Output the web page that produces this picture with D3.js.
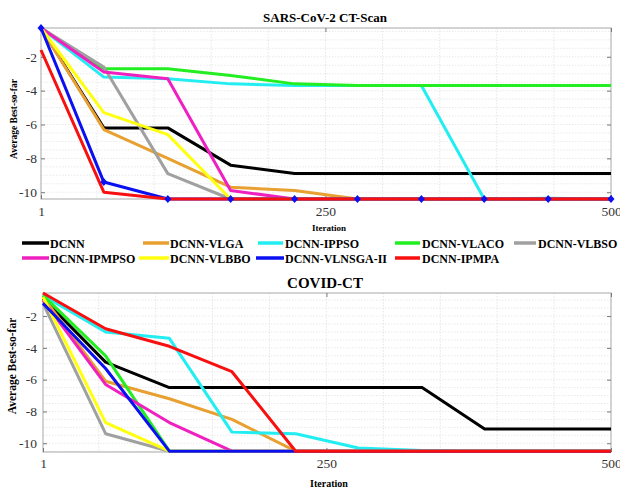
<!DOCTYPE html>
<html>
<head>
<meta charset="utf-8">
<script src="https://cdn.jsdelivr.net/npm/d3@7"></script>
<style>
  body { margin: 0; background: #fff; }
  svg { display: block; }
</style>
</head>
<body>
<div id="chart"></div>
<script>
// iterations where the curves were sampled
const iterations = [1, 56, 112, 167, 223, 278, 334, 389, 445, 500];

const seriesNames = ["DCNN", "DCNN-VLGA", "DCNN-IPPSO", "DCNN-VLACO", "DCNN-VLBSO",
  "DCNN-IPMPSO", "DCNN-VLBBO", "DCNN-VLNSGA-II", "DCNN-IPMPA"];
const seriesColors = ["#000000", "#e8a030", "#22eef2", "#22ee22", "#a0a0a0",
  "#f020c0", "#ffff10", "#0a10f0", "#f81010"];

// SARS-CoV-2 CT-Scan
const sarsValues = [
  [-0.3, -6.2, -6.2, -8.4, -8.9, -8.9, -8.9, -8.9, -8.9, -8.9],
  [-0.3, -6.3, -8.0, -9.7, -9.9, -10.4, -10.4, -10.4, -10.4, -10.4],
  [-0.3, -3.2, -3.3, -3.6, -3.7, -3.7, -3.7, -10.4, -10.35, -10.4],
  [-0.3, -2.7, -2.7, -3.1, -3.6, -3.7, -3.7, -3.7, -3.7, -3.7],
  [-0.3, -2.6, -8.9, -10.4, -10.4, -10.4, -10.4, -10.4, -10.4, -10.4],
  [-0.3, -2.9, -3.3, -9.9, -10.4, -10.4, -10.4, -10.4, -10.4, -10.4],
  [-0.3, -5.3, -6.6, -10.4, -10.4, -10.4, -10.4, -10.4, -10.4, -10.4],
  [-0.3, -9.4, -10.4, -10.4, -10.4, -10.4, -10.4, -10.4, -10.4, -10.4],
  [-1.6, -10.0, -10.4, -10.4, -10.4, -10.4, -10.4, -10.4, -10.4, -10.4]
];

// COVID-CT
const covidValues = [
  [-0.9, -4.9, -6.5, -6.5, -6.5, -6.5, -6.5, -9.1, -9.1, -9.1],
  [-0.8, -6.1, -7.2, -8.5, -10.5, -10.5, -10.5, -10.5, -10.5, -10.5],
  [-0.7, -3.0, -3.4, -9.3, -9.4, -10.3, -10.45, -10.5, -10.5, -10.5],
  [-0.7, -4.5, -10.5, -10.5, -10.5, -10.5, -10.5, -10.5, -10.5, -10.5],
  [-1.2, -9.4, -10.5, -10.5, -10.5, -10.5, -10.5, -10.5, -10.5, -10.5],
  [-1.0, -6.3, -8.7, -10.5, -10.5, -10.5, -10.5, -10.5, -10.5, -10.5],
  [-0.8, -8.7, -10.5, -10.5, -10.5, -10.5, -10.5, -10.5, -10.5, -10.5],
  [-1.2, -5.3, -10.5, -10.5, -10.5, -10.5, -10.5, -10.5, -10.5, -10.5],
  [-0.55, -2.8, -3.9, -5.5, -10.5, -10.5, -10.5, -10.5, -10.5, -10.5]
];

const xTicks = [1, 250, 500];
const yTicks = [-2, -4, -6, -8, -10];

const width = 620;
const height = 488;
const serif = '"Liberation Serif"';

const svg = d3.select("#chart")
  .append("svg")
  .attr("width", width)
  .attr("height", height);

// Draw one panel
function drawPanel(opts) {
  const x = d3.scaleLinear().domain([1, 500]).range([opts.left, opts.right]);
  const y = d3.scaleLinear().domain(opts.yDomain).range([opts.bottom, opts.top]);
  const g = svg.append("g");

  // minor horizontal grid
  g.selectAll(".hminor")
    .data(d3.range(-10.5, -0.2, 0.5).filter(v => v > opts.yDomain[0] && v < opts.yDomain[1]))
    .join("line")
    .attr("x1", opts.left).attr("x2", opts.right)
    .attr("y1", d => y(d)).attr("y2", d => y(d))
    .attr("stroke", "#e4e4e4").attr("stroke-width", 0.8)
    .attr("stroke-dasharray", "1.5,1.5");

  // vertical grid
  g.selectAll(".vgrid")
    .data(d3.range(50, 500, 50))
    .join("line")
    .attr("x1", d => x(d)).attr("x2", d => x(d))
    .attr("y1", opts.top).attr("y2", opts.bottom)
    .attr("stroke", "#e0e0e0").attr("stroke-width", 0.8)
    .attr("stroke-dasharray", "1.5,1.5");

  // frame
  g.append("rect")
    .attr("x", opts.left).attr("y", opts.top)
    .attr("width", opts.right - opts.left).attr("height", opts.bottom - opts.top)
    .attr("fill", "none").attr("stroke", "#a8a8a8").attr("stroke-width", 1);

  // axes, ticks pointing inward
  const xAxis = g.append("g").attr("transform", `translate(0,${opts.bottom})`)
    .call(d3.axisBottom(x).tickValues(xTicks).tickSizeInner(-4).tickSizeOuter(0).tickPadding(opts.xPad));
  const xAxisTop = g.append("g").attr("transform", `translate(0,${opts.top})`)
    .call(d3.axisTop(x).tickValues(xTicks).tickSizeInner(-4).tickSizeOuter(0).tickFormat(""));
  const yAxis = g.append("g").attr("transform", `translate(${opts.left},0)`)
    .call(d3.axisLeft(y).tickValues(yTicks).tickSizeInner(-4).tickSizeOuter(0).tickPadding(opts.yPad));
  const yAxisRight = g.append("g").attr("transform", `translate(${opts.right},0)`)
    .call(d3.axisRight(y).tickValues(yTicks).tickSizeInner(-4).tickSizeOuter(0).tickFormat(""));
  [xAxis, xAxisTop, yAxis, yAxisRight].forEach(a => {
    a.select(".domain").remove();
    a.selectAll(".tick line").attr("stroke", "#777");
    a.selectAll("text").style("font-family", serif).attr("font-size", 13.5).attr("fill", "#333");
  });
  yAxis.selectAll("text").text(d => String(d));

  // series lines
  const line = d3.line().x((d, i) => x(iterations[i])).y(d => y(d));
  g.selectAll(".series")
    .data(opts.values)
    .join("path")
    .attr("d", line)
    .attr("fill", "none")
    .attr("stroke", (d, i) => seriesColors[i])
    .attr("stroke-width", 3)
    .attr("stroke-linejoin", "round");

  // diamond markers on the VLNSGA-II curve
  if (opts.markers) {
    const blue = opts.values[7];
    g.selectAll(".mark")
      .data(blue)
      .join("path")
      .attr("transform", (d, i) => `translate(${x(iterations[i])},${y(d)})`)
      .attr("d", "M0,-4L3.5,0L0,4L-3.5,0Z")
      .attr("fill", seriesColors[7]);
  }

  // title and axis labels
  g.append("text")
    .attr("x", 325).attr("y", opts.titleY)
    .attr("text-anchor", "middle").attr("font-weight", "bold").attr("font-size", opts.titleSize)
    .style("font-family", serif)
    .text(opts.title);
  g.append("text")
    .attr("x", 329).attr("y", opts.xLabelY)
    .attr("text-anchor", "middle").attr("font-weight", "bold").attr("font-size", opts.labelSize)
    .style("font-family", serif)
    .text("Iteration");
  g.append("text")
    .attr("transform", `translate(${opts.yLabelX},${opts.yLabelMid}) rotate(-90)`)
    .attr("text-anchor", "middle").attr("font-weight", "bold").attr("font-size", opts.yLabelSize)
    .style("font-family", serif)
    .text("Average Best-so-far");
}

drawPanel({
  title: "SARS-CoV-2 CT-Scan", values: sarsValues, markers: true,
  left: 41, right: 611, top: 28, bottom: 199, yDomain: [-10.4, -0.3],
  xPad: 7, yPad: 4, titleY: 22, titleSize: 13, labelSize: 9, yLabelSize: 9.5,
  xLabelY: 231, yLabelX: 17, yLabelMid: 119
});

drawPanel({
  title: "COVID-CT", values: covidValues, markers: false,
  left: 43, right: 611, top: 293, bottom: 452, yDomain: [-10.55, -0.55],
  xPad: 6, yPad: 6, titleY: 288, titleSize: 15, labelSize: 10, yLabelSize: 11.5,
  xLabelY: 487, yLabelX: 16, yLabelMid: 366
});

// legend
const legendPos = [
  [22, 243], [143, 243], [258, 243], [395, 243], [514, 243],
  [22, 258], [139, 258], [256, 258], [395, 258]
];
const legend = svg.append("g");
const item = legend.selectAll("g")
  .data(seriesNames)
  .join("g")
  .attr("transform", (d, i) => `translate(${legendPos[i][0]},${legendPos[i][1]})`);
item.append("line")
  .attr("x1", 0).attr("x2", (d, i) => [27, 26, 25, 25, 22, 27, 30, 28, 25][i])
  .attr("stroke", (d, i) => seriesColors[i])
  .attr("stroke-width", 3.5);
item.append("text")
  .attr("x", (d, i) => [28, 27, 27, 27, 24, 28, 31, 29, 27][i]).attr("y", 4.5)
  .attr("font-weight", "bold").attr("font-size", 12)
  .style("font-family", serif)
  .text(d => d);
</script>
</body>
</html>
